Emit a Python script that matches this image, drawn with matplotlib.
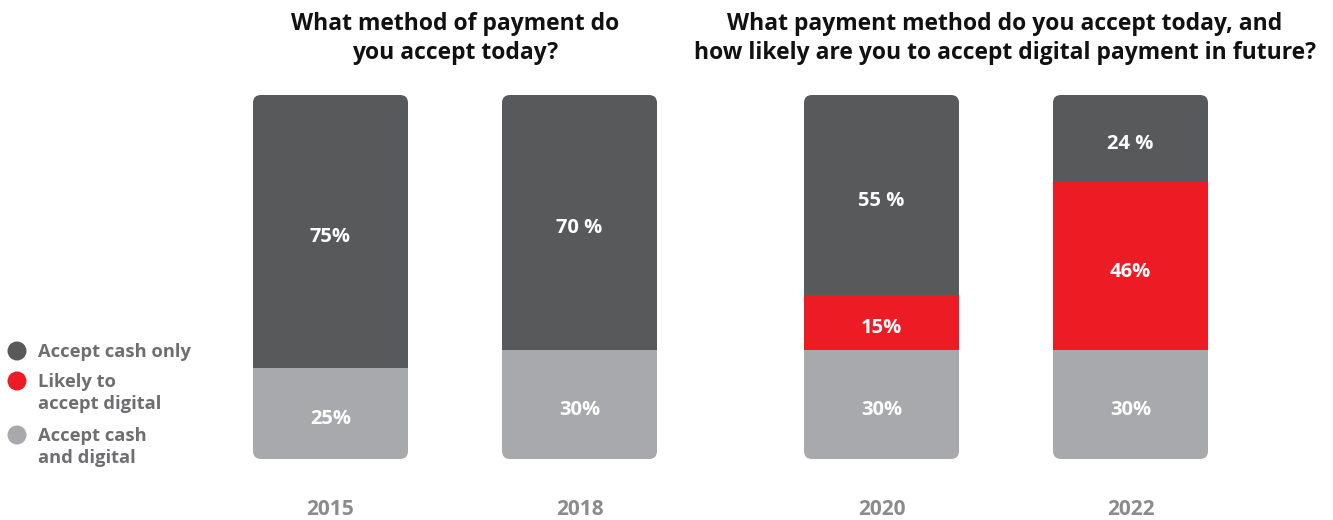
import matplotlib
matplotlib.use('Agg')
import matplotlib.pyplot as plt
from matplotlib.patches import FancyBboxPatch, Ellipse

plt.rcParams['font.family'] = ['Open Sans', 'DejaVu Sans']

# data
years = ['2015', '2018', '2020', '2022']
cash_and_digital = [25, 30, 30, 30]
likely_digital = [0, 0, 15, 46]
cash_only = [75, 70, 55, 24]
cash_and_digital_labels = ['25%', '30%', '30%', '30%']
likely_digital_labels = ['', '', '15%', '46%']
cash_only_labels = ['75%', '70 %', '55 %', '24 %']
legend_labels = ['Accept cash only', 'Likely to\naccept digital', 'Accept cash\nand digital']

DARK = '#58595b'
RED = '#ed1c24'
LIGHT = '#a7a9ac'
YEAR_GREY = '#8a8b8d'

W, H = 1333, 520
fig = plt.figure(figsize=(W / 100, H / 100), dpi=100)

# axes: x in pixels, y in percent (bars span pixel rows 95..459)
ax = fig.add_axes([0, (H - 459) / H, 1, 364 / H])
ax.set_xlim(0, W)
ax.set_ylim(0, 100)
ax.axis('off')

xpos = [330.5, 579.5, 881.5, 1130.5]
bw = 155
y_per_px = 100 / 364
radius = 8

for i in range(len(years)):
    clip = FancyBboxPatch((xpos[i] - bw / 2, 0), bw, 100,
                          boxstyle='round,pad=0,rounding_size=%s' % radius,
                          mutation_aspect=y_per_px, transform=ax.transData,
                          facecolor='none', edgecolor='none')
    ax.add_patch(clip)
    bottom = 0
    for vals, labs, col in [(cash_and_digital, cash_and_digital_labels, LIGHT),
                            (likely_digital, likely_digital_labels, RED),
                            (cash_only, cash_only_labels, DARK)]:
        v = vals[i]
        if v > 0:
            b = ax.bar(xpos[i], v, width=bw, bottom=bottom, color=col, linewidth=0)
            b[0].set_clip_path(clip)
            ax.text(xpos[i], bottom + v / 2 - 1.5, labs[i], color='white',
                    fontsize=14.5, fontweight='bold', ha='center', va='center')
        bottom += v
    ax.text(xpos[i], -13.8, years[i], color=YEAR_GREY, fontsize=15,
            fontweight='bold', ha='center', va='center')

# titles
fig.text(455 / W, 1 - 12 / H, 'What method of payment do\nyou accept today?',
         ha='center', va='top', fontsize=16.5, fontweight='bold',
         color='#111111', linespacing=1.3)
fig.text(1005 / W, 1 - 12 / H,
         'What payment method do you accept today, and\nhow likely are you to accept digital payment in future?',
         ha='center', va='top', fontsize=16.5, fontweight='bold',
         color='#111111', linespacing=1.3)

# legend
leg_cols = [DARK, RED, LIGHT]
leg_y = [351, 381, 435]
for lab, col, ly in zip(legend_labels, leg_cols, leg_y):
    fig.patches.append(Ellipse((17 / W, 1 - ly / H), 19 / W, 19 / H,
                               transform=fig.transFigure,
                               facecolor=col, edgecolor='none'))
    fig.text(38 / W, 1 - (ly - 8) / H, lab, ha='left', va='top', fontsize=13.2,
             fontweight='bold', color='#6d6e71', linespacing=1.3)

fig.savefig('out.png', dpi=100)
